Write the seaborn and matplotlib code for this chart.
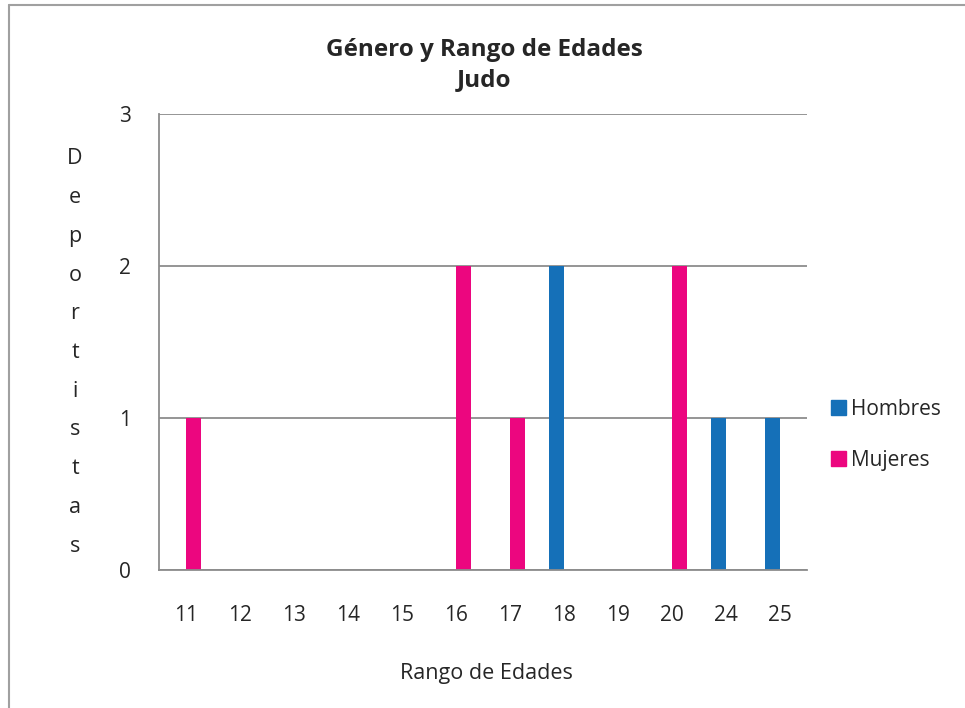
import matplotlib
matplotlib.use("Agg")
import matplotlib.pyplot as plt
from matplotlib.lines import Line2D
import pandas as pd
import seaborn as sns

# Age categories and athlete counts per gender
edades = ["11", "12", "13", "14", "15", "16", "17", "18", "19", "20", "24", "25"]
hombres = [0, 0, 0, 0, 0, 0, 0, 2, 0, 0, 1, 1]
mujeres = [1, 0, 0, 0, 0, 2, 1, 0, 0, 2, 0, 0]
series = ["Hombres", "Mujeres"]
colores = {"Hombres": "#1570B8", "Mujeres": "#EC067F"}
y_ticks = [0, 1, 2, 3]

df = pd.DataFrame({
    "edad": edades * 2,
    "genero": ["Hombres"] * len(edades) + ["Mujeres"] * len(edades),
    "deportistas": hombres + mujeres,
})

sns.set_theme(style="white")
plt.rcParams["font.family"] = ["Open Sans", "DejaVu Sans"]
txt = "#262626"
grid_c = "#8C8C8C"

W, H = 965, 708
fig = plt.figure(figsize=(W / 100, H / 100), dpi=100)
fig.patch.set_facecolor("white")

left, right, top, bottom = 159, 807, 114, 570
ax = fig.add_axes([left / W, 1 - bottom / H, (right - left) / W, (bottom - top) / H])

sns.barplot(data=df, x="edad", y="deportistas", hue="genero", order=edades,
            hue_order=series, palette=colores, width=0.556, saturation=1,
            linewidth=0, ax=ax)

ax.set_ylim(0, 3)
ax.set_yticks(y_ticks)
ax.set_xlim(-0.5, len(edades) - 0.5)
ax.yaxis.grid(True, color=grid_c, linewidth=1.3)
ax.set_axisbelow(True)
for side in ["top", "right"]:
    ax.spines[side].set_visible(False)
for side in ["left", "bottom"]:
    ax.spines[side].set_color(grid_c)
    ax.spines[side].set_linewidth(1.3)
ax.tick_params(axis="both", length=0, labelsize=15, labelcolor=txt)
ax.tick_params(axis="x", pad=25)
ax.tick_params(axis="y", pad=20)
ax.set_xlabel("")
ax.set_ylabel("")

# Title
fig.text(484 / W, 1 - 50 / H, "Género y Rango de Edades", ha="center", va="center",
         fontsize=17.5, fontweight="bold", color=txt)
fig.text(484 / W, 1 - 80 / H, "Judo", ha="center", va="center",
         fontsize=17.5, fontweight="bold", color=txt)

# Axis titles
fig.text(486 / W, 1 - 674 / H, "Rango de Edades", ha="center", va="center",
         fontsize=15.5, color=txt)
letras = "Deportistas"
y0, y1 = 159, 546
for i, ch in enumerate(letras):
    y = y0 + (y1 - y0) * i / (len(letras) - 1)
    fig.text(75 / W, 1 - y / H, ch, ha="center", va="center", fontsize=15.5, color=txt)

# Legend
ax.legend_.remove()
handles = [plt.Rectangle((0, 0), 1, 1, color=colores[s]) for s in series]
fig.legend(handles, series, loc="center left", bbox_to_anchor=(812 / W, 1 - 435 / H),
           frameon=False, fontsize=15, handlelength=0.75, handleheight=0.75,
           handletextpad=0.2, labelspacing=1.45, labelcolor=txt)

# Chart frame
fig.add_artist(Line2D([9 / W, 9 / W], [0, 1 - 5 / H], color="#A0A0A0", linewidth=1.5,
                      transform=fig.transFigure))
fig.add_artist(Line2D([9 / W, 1], [1 - 5 / H, 1 - 5 / H], color="#A0A0A0", linewidth=1.5,
                      transform=fig.transFigure))

fig.savefig("out.png", dpi=100)
